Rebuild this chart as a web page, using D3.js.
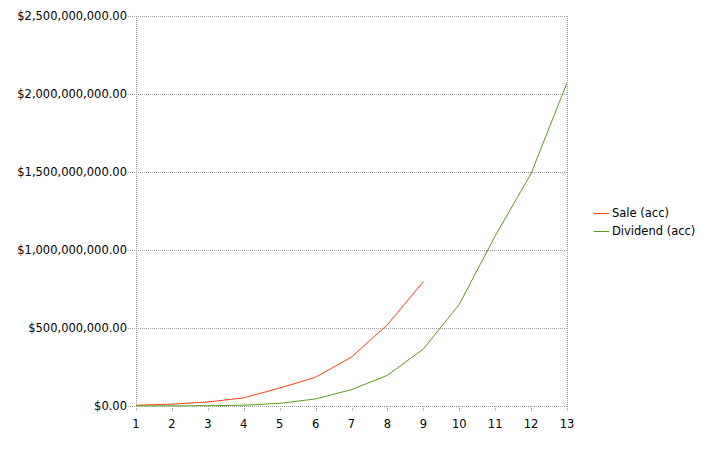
<!DOCTYPE html>
<html><head><meta charset="utf-8">
<script src="https://cdn.jsdelivr.net/npm/d3@7"></script>
<style>body{margin:0;background:#fff}svg{display:block}text{font-family:"DejaVu Sans",Verdana,sans-serif;font-size:11.5px;fill:#000}</style>
</head><body><svg id="c" width="720" height="450"></svg>
<script>
const periods = [1,2,3,4,5,6,7,8,9,10,11,12,13];
const saleAcc = [5e6,12e6,26e6,52e6,115e6,184e6,314e6,521e6,797e6];
const dividendAcc = [1e6,1e6,2e6,5e6,17e6,45e6,105e6,197e6,365e6,652e6,1090e6,1490e6,2072e6];
const yTicks = [0,5e8,1e9,1.5e9,2e9,2.5e9];
const seriesNames = ["Sale (acc)","Dividend (acc)"];
const colors = ["#ff420e","#579d1c"];

const svg = d3.select("#c");
const L=136,R=567,T=16,B=406;
const x = d3.scaleLinear().domain([1,13]).range([L,R]);
const y = d3.scaleLinear().domain([0,2.5e9]).range([B,T]);
const fmt = v => "$" + d3.format(",.2f")(v);

svg.append("g").selectAll("line").data(yTicks).join("line")
  .attr("x1",L-8).attr("x2",R).attr("y1",d=>y(d)+0.5).attr("y2",d=>y(d)+0.5)
  .attr("stroke","#a0a0a0").attr("stroke-dasharray","1,1");
svg.append("line").attr("x1",R+0.5).attr("x2",R+0.5).attr("y1",T).attr("y2",B)
  .attr("stroke","#a0a0a0").attr("stroke-dasharray","1,1");
svg.append("line").attr("x1",L+0.5).attr("x2",L+0.5).attr("y1",T).attr("y2",B+5)
  .attr("stroke","#a0a0a0").attr("stroke-dasharray","1,1");
svg.append("g").selectAll("line").data(periods).join("line")
  .attr("x1",d=>Math.round(x(d))+0.5).attr("x2",d=>Math.round(x(d))+0.5).attr("y1",B).attr("y2",B+5)
  .attr("stroke","#a0a0a0").attr("stroke-dasharray","1,1");
svg.append("g").selectAll("text").data(yTicks).join("text")
  .attr("x",L-9).attr("y",d=>y(d)+4).attr("text-anchor","end").text(fmt);
svg.append("g").selectAll("text").data(periods).join("text")
  .attr("x",d=>x(d)).attr("y",B+22).attr("text-anchor","middle").text(d=>d);

const line = d3.line().x((d,i)=>x(periods[i])).y(d=>y(d));
[saleAcc,dividendAcc].forEach((s,k)=>{
  svg.append("path").attr("d",line(s)).attr("fill","none").attr("stroke",colors[k]).attr("stroke-width",1);
});
const lg = svg.append("g");
seriesNames.forEach((n,k)=>{
  const yy = 213 + k*18;
  lg.append("line").attr("x1",594).attr("x2",609).attr("y1",yy+0.5).attr("y2",yy+0.5).attr("stroke",colors[k]);
  lg.append("text").attr("x",612).attr("y",yy+4).text(n);
});
</script></body></html>
